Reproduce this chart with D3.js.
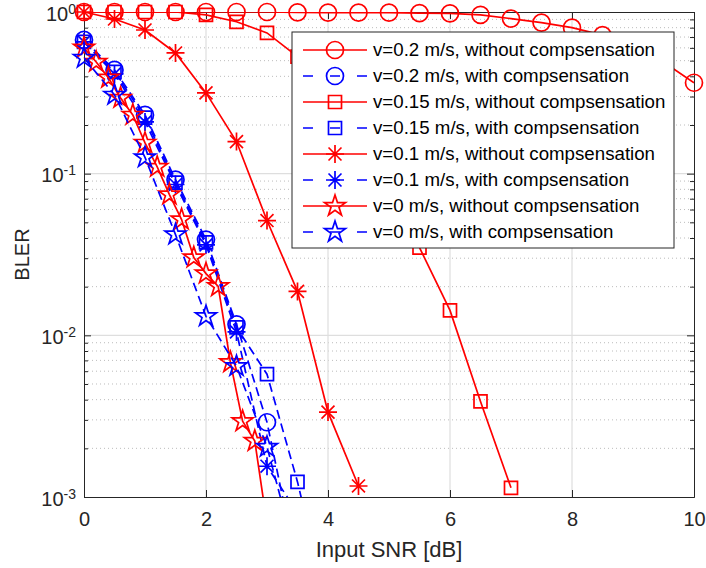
<!DOCTYPE html>
<html>
<head>
<meta charset="utf-8">
<script src="https://cdn.jsdelivr.net/npm/d3@7"></script>
<style>
  body { margin: 0; background: #fff; }
  svg { font-family: "Liberation Sans", Arial, sans-serif; }
</style>
</head>
<body>
<div id="chart"></div>
<script>
// series values
var snr02wo = [0,0.5,1,1.5,2,2.5,3,3.5,4,4.5,5,5.5,6,6.5,7,7.5,8,8.5,9,9.5,10];
var bler02wo = [1,1,1,1,1,1,1,0.995,0.99,0.99,0.99,0.985,0.98,0.96,0.91,0.86,0.8,0.72,0.62,0.49,0.365];

var snr02w = [0,0.5,1,1.5,2,2.5,3,3.5];
var bler02w = [0.672,0.438,0.231,0.0918,0.0391,0.0117,0.0029,0.00036];

var snr015wo = [0,0.5,1,1.5,2,2.5,3,3.5,4,4.5,5,5.5,6,6.5,7];
var bler015wo = [1,1,1,1,0.96,0.87,0.742,0.53,0.34,0.19,0.085,0.0349,0.01426,0.0039,0.00114];

var snr015w = [0,0.5,1,1.5,2,2.5,3,3.5,4];
var bler015w = [0.653,0.426,0.222,0.088,0.0376,0.0112,0.00575,0.00124,0.0002];

var snr01wo = [0,0.5,1,1.5,2,2.5,3,3.5,4,4.5];
var bler01wo = [1,0.905,0.774,0.558,0.316,0.158,0.0513,0.0187,0.00335,0.00117];

var snr01w = [0,0.5,1,1.5,2,2.5,3,3.5];
var bler01w = [0.653,0.414,0.209,0.0857,0.0363,0.0105,0.00155,0.0008];

var snr0wo = [0,0.2,0.4,0.6,0.8,1,1.2,1.4,1.6,1.8,2,2.2,2.4,2.6,2.8,3];
var bler0wo = [0.6,0.491,0.392,0.294,0.231,0.155,0.11,0.0742,0.052,0.0303,0.0241,0.0201,0.00681,0.00294,0.00222,0.00068];

var snr0w = [0,0.5,1,1.5,2,2.5,3,3.5];
var bler0w = [0.52,0.307,0.126,0.042,0.0131,0.00644,0.00204,0.0004];

var xTicks = [0,2,4,6,8,10];
var yTicks = [1e-3,1e-2,1e-1,1];

var series = [
  {name:"v=0.2 m/s, without compsensation", x:snr02wo, y:bler02wo, color:"#ff0000", dash:null, marker:"circle"},
  {name:"v=0.2 m/s, with compsensation", x:snr02w, y:bler02w, color:"#0000ff", dash:"9,5", marker:"circle"},
  {name:"v=0.15 m/s, without compsensation", x:snr015wo, y:bler015wo, color:"#ff0000", dash:null, marker:"square"},
  {name:"v=0.15 m/s, with compsensation", x:snr015w, y:bler015w, color:"#0000ff", dash:"9,5", marker:"square"},
  {name:"v=0.1 m/s, without compsensation", x:snr01wo, y:bler01wo, color:"#ff0000", dash:null, marker:"asterisk"},
  {name:"v=0.1 m/s, with compsensation", x:snr01w, y:bler01w, color:"#0000ff", dash:"9,5", marker:"asterisk"},
  {name:"v=0 m/s, without compsensation", x:snr0wo, y:bler0wo, color:"#ff0000", dash:null, marker:"star"},
  {name:"v=0 m/s, with compsensation", x:snr0w, y:bler0w, color:"#0000ff", dash:"9,5", marker:"star"}
];

var width = 706, height = 568;
var plotL = 84, plotR = 694, plotT = 12, plotB = 497;
var axisColor = "#262626";

var svg = d3.select("#chart").append("svg")
    .attr("width", width)
    .attr("height", height);

var x = d3.scaleLinear().domain([0,10]).range([plotL,plotR]);
var y = d3.scaleLog().domain([1e-3,1]).range([plotB,plotT]);

// minor y values (2..9 per decade)
var yMinor = [];
[1e-3,1e-2,1e-1].forEach(function(d){
  for (var k = 2; k <= 9; k++) yMinor.push(d*k);
});

svg.append("clipPath").attr("id","plotclip")
  .append("rect")
    .attr("x",plotL).attr("y",plotT)
    .attr("width",plotR-plotL).attr("height",plotB-plotT);

// grid
var grid = svg.append("g");
grid.selectAll(".minor").data(yMinor).enter().append("line")
  .attr("x1",plotL).attr("x2",plotR)
  .attr("y1",function(d){return y(d);}).attr("y2",function(d){return y(d);})
  .attr("stroke","#bcbcbc")
  .attr("stroke-width",1)
  .attr("stroke-dasharray","1,3");
grid.selectAll(".vmaj").data(xTicks.slice(1,-1)).enter().append("line")
  .attr("x1",function(d){return x(d);}).attr("x2",function(d){return x(d);})
  .attr("y1",plotT).attr("y2",plotB)
  .attr("stroke","#dedede")
  .attr("stroke-width",1.2);
grid.selectAll(".hmaj").data(yTicks.slice(1,-1)).enter().append("line")
  .attr("x1",plotL).attr("x2",plotR)
  .attr("y1",function(d){return y(d);}).attr("y2",function(d){return y(d);})
  .attr("stroke","#dedede")
  .attr("stroke-width",1.2);

// axes
var gx = svg.append("g")
  .attr("transform","translate(0,"+plotB+")")
  .call(d3.axisBottom(x).tickValues(xTicks).tickSizeInner(-7).tickSizeOuter(0).tickPadding(15));
svg.append("g")
  .attr("transform","translate(0,"+plotT+")")
  .call(d3.axisTop(x).tickValues(xTicks).tickSizeInner(-7).tickSizeOuter(0).tickFormat(""));

var gy = svg.append("g")
  .attr("transform","translate("+plotL+",0)")
  .call(d3.axisLeft(y).tickValues(yTicks).tickSizeInner(-7).tickSizeOuter(0).tickPadding(8));
svg.append("g")
  .attr("transform","translate("+plotL+",0)")
  .call(d3.axisLeft(y).tickValues(yMinor).tickSizeInner(-4).tickSizeOuter(0).tickFormat(""));
svg.append("g")
  .attr("transform","translate("+plotR+",0)")
  .call(d3.axisRight(y).tickValues(yTicks).tickSizeInner(-7).tickSizeOuter(0).tickFormat(""));
svg.append("g")
  .attr("transform","translate("+plotR+",0)")
  .call(d3.axisRight(y).tickValues(yMinor).tickSizeInner(-4).tickSizeOuter(0).tickFormat(""));

svg.selectAll(".domain, .tick line").attr("stroke",axisColor);
svg.selectAll(".tick text").attr("fill",axisColor).style("font-size","20px").style("font-family","Liberation Sans, Arial, sans-serif");

gy.selectAll(".tick text").each(function(d){
  var t = d3.select(this);
  var e = Math.round(Math.log10(d));
  t.attr("dy","0.4em");
  t.text("");
  t.append("tspan").text("10");
  t.append("tspan").attr("dy","-0.5em").style("font-size","14px").text(String(e));
});

// curves
var line = d3.line()
  .x(function(d){return x(d[0]);})
  .y(function(d){return y(d[1]);});

function markerPath(type){
  if (type === "circle") return d3.symbol(d3.symbolCircle, Math.PI*8.5*8.5)();
  if (type === "square") return d3.symbol(d3.symbolSquare, 13*13)();
  if (type === "star") {
    var R = 11, r = R*0.382, p = [];
    for (var i = 0; i < 10; i++) {
      var a = -Math.PI/2 + i*Math.PI/5, rr = (i%2===0) ? R : r;
      p.push([rr*Math.cos(a), rr*Math.sin(a)]);
    }
    return "M" + p.map(function(q){return q[0].toFixed(2)+","+q[1].toFixed(2);}).join("L") + "Z";
  }
  var h = 9, dd = 9*0.72;
  return "M"+(-h)+",0L"+h+",0M0,"+(-h)+"L0,"+h+
         "M"+(-dd)+","+(-dd)+"L"+dd+","+dd+"M"+(-dd)+","+dd+"L"+dd+","+(-dd);
}

series.forEach(function(s){
  var pts = s.x.map(function(v,i){return [v, s.y[i]];});
  var g = svg.append("g");
  g.append("path")
    .datum(pts)
    .attr("clip-path","url(#plotclip)")
    .attr("d",line)
    .attr("fill","none")
    .attr("stroke",s.color)
    .attr("stroke-width",1.7)
    .attr("stroke-dasharray",s.dash);
  g.selectAll(".m").data(pts.filter(function(p){return p[1] >= 1e-3;})).enter().append("path")
    .attr("transform",function(d){return "translate("+x(d[0])+","+y(d[1])+")";})
    .attr("d",markerPath(s.marker))
    .attr("fill","none")
    .attr("stroke",s.color)
    .attr("stroke-width",1.7);
});

// axis labels
svg.append("text")
  .attr("x",(plotL+plotR)/2)
  .attr("y",557)
  .attr("text-anchor","middle")
  .attr("fill",axisColor)
  .style("font-size","22px")
  .text("Input SNR [dB]");
svg.append("text")
  .attr("transform","translate(29,"+((plotT+plotB)/2)+") rotate(-90)")
  .attr("text-anchor","middle")
  .attr("fill",axisColor)
  .style("font-size","20px")
  .text("BLER");

// legend
var lg = svg.append("g");
lg.append("rect")
  .attr("x",292).attr("y",32)
  .attr("width",382).attr("height",216)
  .attr("fill","#fff")
  .attr("stroke",axisColor)
  .attr("stroke-width",1);
series.forEach(function(s,i){
  var ly = 50 + i*26;
  lg.append("line")
    .attr("x1",303).attr("x2",367)
    .attr("y1",ly).attr("y2",ly)
    .attr("stroke",s.color)
    .attr("stroke-width",1.7)
    .attr("stroke-dasharray",s.dash ? "10,17,10,17,10" : null);
  lg.append("path")
    .attr("transform","translate(335,"+ly+")")
    .attr("d",markerPath(s.marker))
    .attr("fill","none")
    .attr("stroke",s.color)
    .attr("stroke-width",1.7);
  lg.append("text")
    .attr("x",373)
    .attr("y",ly+6)
    .attr("fill","#000")
    .style("font-size","18.7px")
    .text(s.name);
});
</script>
</body>
</html>
